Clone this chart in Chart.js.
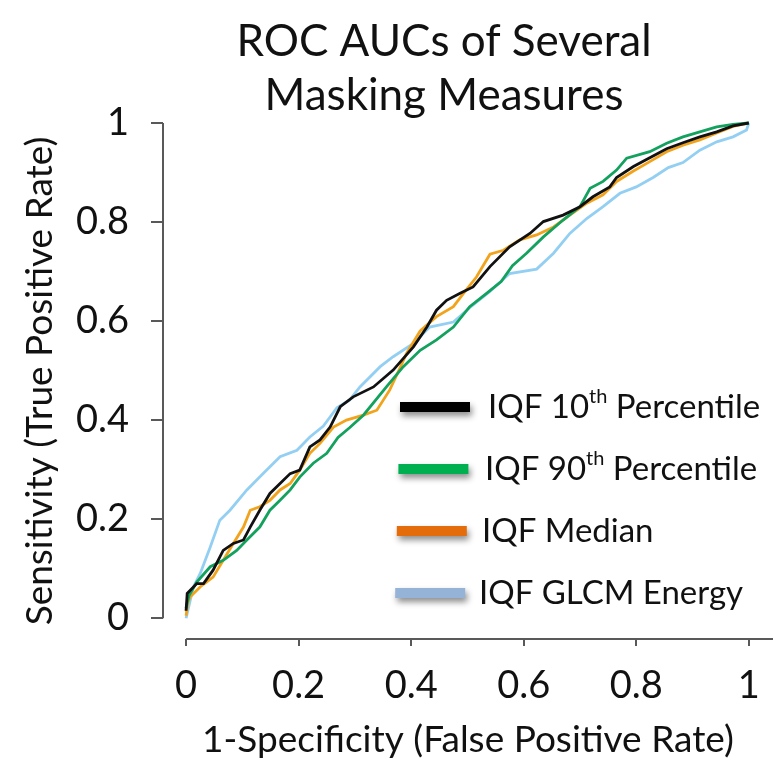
<!DOCTYPE html>
<html>
<head>
<meta charset="utf-8">
<script src="https://cdn.jsdelivr.net/npm/chart.js@4.4.0/dist/chart.umd.min.js"></script>
<style>
  body { margin: 0; background: #fff; }
</style>
</head>
<body>
<canvas id="roc-chart" width="774" height="764"></canvas>
<script>
// chart text
var titleLines = ['ROC AUCs of Several', 'Masking Measures'];
var xAxisTitle = '1-Specificity (False Positive Rate)';
var yAxisTitle = 'Sensitivity (True Positive Rate)';
var tickValues = [0, 0.2, 0.4, 0.6, 0.8, 1];
var seriesNames = ['IQF 10th Percentile', 'IQF 90th Percentile', 'IQF Median', 'IQF GLCM Energy'];

// ROC points: [false positive rate, true positive rate]
var p10 = [[0,0.015],[0.002,0.05],[0.019,0.07],[0.031,0.07],[0.048,0.097],[0.066,0.137],[0.084,0.151],
  [0.102,0.158],[0.114,0.184],[0.131,0.218],[0.149,0.252],[0.167,0.272],[0.185,0.292],[0.202,0.299],
  [0.22,0.346],[0.238,0.36],[0.256,0.386],[0.274,0.427],[0.297,0.447],[0.333,0.467],[0.368,0.501],
  [0.404,0.548],[0.428,0.588],[0.445,0.622],[0.463,0.642],[0.487,0.656],[0.51,0.669],[0.54,0.71],
  [0.575,0.75],[0.611,0.777],[0.635,0.801],[0.67,0.814],[0.7,0.831],[0.723,0.851],[0.753,0.871],
  [0.765,0.89],[0.795,0.912],[0.824,0.93],[0.854,0.948],[0.883,0.96],[0.913,0.972],[0.943,0.982],
  [0.972,0.994],[1,1]];

var p90 = [[0,0.02],[0.005,0.045],[0.019,0.073],[0.043,0.104],[0.066,0.117],[0.09,0.137],[0.108,0.158],
  [0.131,0.184],[0.149,0.218],[0.167,0.238],[0.185,0.259],[0.202,0.285],[0.226,0.313],[0.25,0.333],
  [0.27,0.365],[0.291,0.385],[0.315,0.41],[0.356,0.467],[0.386,0.508],[0.416,0.541],[0.445,0.562],
  [0.475,0.588],[0.504,0.629],[0.534,0.656],[0.56,0.68],[0.58,0.712],[0.605,0.737],[0.635,0.77],
  [0.67,0.804],[0.7,0.831],[0.718,0.868],[0.741,0.882],[0.765,0.905],[0.783,0.929],[0.824,0.942],
  [0.854,0.959],[0.883,0.972],[0.913,0.982],[0.943,0.992],[0.972,0.997],[1,1]];

var median = [[0,0.005],[0.003,0.03],[0.007,0.043],[0.025,0.063],[0.048,0.083],[0.066,0.117],[0.084,0.151],
  [0.102,0.184],[0.114,0.218],[0.131,0.225],[0.149,0.238],[0.167,0.259],[0.185,0.272],[0.202,0.299],
  [0.22,0.333],[0.238,0.353],[0.262,0.386],[0.285,0.4],[0.315,0.41],[0.339,0.42],[0.362,0.461],
  [0.38,0.505],[0.392,0.535],[0.416,0.58],[0.445,0.609],[0.475,0.629],[0.493,0.656],[0.516,0.689],
  [0.54,0.735],[0.564,0.743],[0.593,0.764],[0.623,0.774],[0.653,0.79],[0.682,0.814],[0.712,0.838],
  [0.741,0.855],[0.765,0.882],[0.795,0.903],[0.824,0.922],[0.854,0.942],[0.883,0.955],[0.913,0.966],
  [0.943,0.98],[0.972,0.993],[1,1]];

var glcm = [[0,0],[0.013,0.063],[0.025,0.09],[0.043,0.144],[0.06,0.198],[0.078,0.218],[0.108,0.259],
  [0.137,0.292],[0.167,0.326],[0.197,0.339],[0.22,0.366],[0.244,0.388],[0.268,0.425],[0.29,0.44],
  [0.309,0.467],[0.345,0.508],[0.368,0.528],[0.404,0.555],[0.433,0.588],[0.475,0.598],[0.504,0.627],
  [0.54,0.66],[0.575,0.696],[0.623,0.705],[0.653,0.737],[0.682,0.777],[0.712,0.807],[0.741,0.831],
  [0.771,0.858],[0.8,0.871],[0.83,0.89],[0.857,0.91],[0.883,0.92],[0.913,0.945],[0.943,0.962],
  [0.972,0.972],[0.996,0.986],[1,1]];

var lineColors = ['#111111', '#13a15e', '#f2a31c', '#93cff2'];
var swatchColors = ['#000000', '#00b050', '#e46c0a', '#95b3d7'];

function toPoints(arr){
  return arr.map(function(p){ return {x: p[0], y: p[1]}; });
}

// two line title, sits over the plot
var titlePlugin = {
  id: 'titleLines',
  afterDraw: function(chart){
    var ctx = chart.ctx;
    ctx.save();
    ctx.fillStyle = '#111';
    ctx.font = '44px Lato';
    ctx.textAlign = 'center';
    ctx.textBaseline = 'middle';
    ctx.fillText(titleLines[0], 444, 42);
    ctx.fillText(titleLines[1], 444, 96);
    ctx.restore();
  }
};

// axis lines only over the 0..1 range, like the original
var axisLines = {
  id: 'axisLines',
  afterDraw: function(chart){
    var ctx = chart.ctx, xs = chart.scales.x, ys = chart.scales.y;
    ctx.save();
    ctx.strokeStyle = '#595959';
    ctx.lineWidth = 2;
    ctx.beginPath();
    ctx.moveTo(xs.left, ys.getPixelForValue(1));
    ctx.lineTo(xs.left, ys.getPixelForValue(0));
    ctx.moveTo(xs.getPixelForValue(0), ys.bottom);
    ctx.lineTo(xs.right, ys.bottom);
    ctx.stroke();
    ctx.restore();
  }
};

// legend inside the plot, with superscript "th"
var insideLegend = {
  id: 'insideLegend',
  afterDraw: function(chart){
    var ctx = chart.ctx;
    chart.data.datasets.forEach(function(ds, i){
      var y = 407 + i * 62;
      var sx = 400 - i * 1.6;
      ctx.save();
      ctx.shadowColor = 'rgba(0,0,0,0.45)';
      ctx.shadowBlur = 6;
      ctx.shadowOffsetX = 2;
      ctx.shadowOffsetY = 4;
      ctx.strokeStyle = swatchColors[i];
      ctx.lineWidth = 10;
      ctx.beginPath();
      ctx.moveTo(sx, y);
      ctx.lineTo(sx + 70, y);
      ctx.stroke();
      ctx.restore();

      ctx.save();
      ctx.fillStyle = '#111';
      ctx.textBaseline = 'middle';
      ctx.textAlign = 'left';
      var x = 488 - i * 3;
      var m = ds.label.match(/^(.*?\d+)(th)(.*)$/);
      var parts = m ? [[m[1], false], [m[2], true], [m[3], false]] : [[ds.label, false]];
      parts.forEach(function(p){
        ctx.font = p[1] ? '20px Lato' : '33px Lato';
        ctx.fillText(p[0], x, p[1] ? y - 10 : y);
        x += ctx.measureText(p[0]).width;
      });
      ctx.restore();
    });
  }
};

Chart.defaults.font.family = 'Lato';
Chart.defaults.color = '#111';

var ctx = document.getElementById('roc-chart').getContext('2d');

var roc = new Chart(ctx, {
  type: 'line',
  data: {
    datasets: [
      { label: seriesNames[0], data: toPoints(p10) },
      { label: seriesNames[1], data: toPoints(p90) },
      { label: seriesNames[2], data: toPoints(median) },
      { label: seriesNames[3], data: toPoints(glcm) }
    ].map(function(ds, i){
      ds.borderColor = lineColors[i];
      ds.borderWidth = 2.8;
      ds.pointRadius = 0;
      ds.tension = 0;
      ds.fill = false;
      ds.clip = false;
      return ds;
    })
  },
  options: {
    responsive: false,
    animation: false,
    layout: { padding: { top: 123, right: 1, left: 0, bottom: 0 } },
    plugins: {
      legend: { display: false },
      title: { display: false },
      tooltip: { enabled: false }
    },
    scales: {
      x: {
        type: 'linear',
        min: -0.041,
        max: 1.043,
        afterBuildTicks: function(scale){
          scale.ticks = tickValues.map(function(v){ return {value: v}; });
        },
        afterFit: function(scale){
          scale.height = 125;
          scale.paddingLeft = 0;
          scale.paddingRight = 0;
        },
        grid: { drawOnChartArea: false, tickLength: 7, color: '#595959', lineWidth: 2 },
        border: { display: false },
        ticks: {
          font: { size: 38 }, padding: 17, maxRotation: 0,
          callback: function(v){ return String(v); }
        },
        title: { display: true, text: xAxisTitle, font: { size: 37 }, padding: { bottom: 2 } }
      },
      y: {
        type: 'linear',
        min: -0.042,
        max: 1,
        afterBuildTicks: function(scale){
          scale.ticks = tickValues.map(function(v){ return {value: v}; });
        },
        afterFit: function(scale){
          scale.width = 163;
          scale.paddingTop = 0;
          scale.paddingBottom = 0;
        },
        grid: { drawOnChartArea: false, tickLength: 12, color: '#595959', lineWidth: 2 },
        border: { display: false },
        ticks: {
          font: { size: 38 }, padding: 22,
          callback: function(v){ return String(v); }
        },
        title: { display: true, text: yAxisTitle, font: { size: 37 }, padding: { top: 18 } }
      }
    }
  },
  plugins: [axisLines, titlePlugin, insideLegend]
});
</script>
</body>
</html>
